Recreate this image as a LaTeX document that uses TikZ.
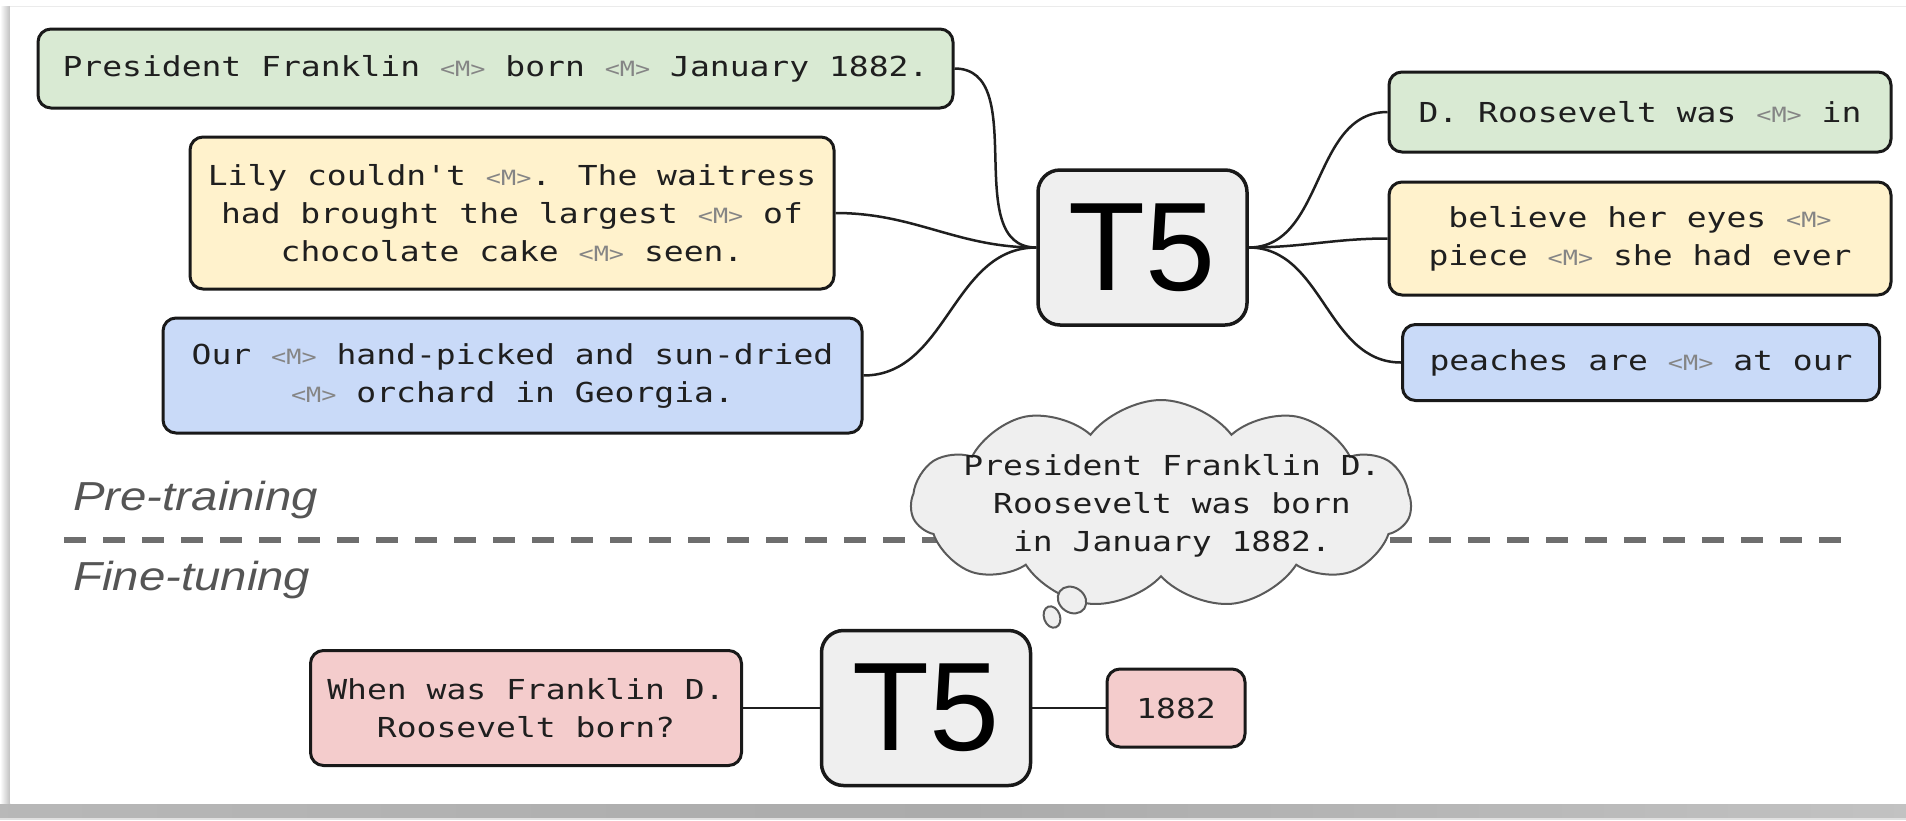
\documentclass[tikz,border=0pt]{standalone}
\usepackage{fontspec}
\usetikzlibrary{shapes.symbols,shapes.geometric}

\newfontfamily\monofam[FakeStretch=1.2]{DejaVu Sans Mono}
\newfontfamily\sansfam{Liberation Sans}
\newfontfamily\labelfam[FakeStretch=1.17]{Liberation Sans}

\definecolor{boxgreen}{HTML}{D9EAD3}
\definecolor{boxyellow}{HTML}{FFF2CC}
\definecolor{boxblue}{HTML}{C9DAF8}
\definecolor{boxpink}{HTML}{F4CCCC}
\definecolor{modelgray}{HTML}{EFEFEF}
\definecolor{inktext}{HTML}{1F1F1F}
\definecolor{masktext}{HTML}{858585}
\definecolor{rulegray}{HTML}{6E6E6E}
\definecolor{cloudline}{HTML}{5A5A5A}
\definecolor{labeltext}{HTML}{555555}

% masked-span token, set smaller and in grey
\newcommand\msk{{\fontsize{21}{38}\selectfont\color{masktext}<M>}}

\tikzset{
  textbox/.style={draw=black!90, line width=3pt, rounded corners=13pt,
    font=\monofam\fontsize{27.5}{38}\selectfont, text=inktext,
    align=center, inner sep=0pt},
  model/.style={draw=black!90, line width=3.5pt, rounded corners=22pt,
    fill=modelgray, font=\sansfam\fontsize{126}{126}\selectfont,
    minimum width=209pt, minimum height=155pt, inner sep=0pt},
  link/.style={line width=2.5pt, draw=black!88},
  phase/.style={font=\labelfam\itshape\fontsize{40.5}{44}\selectfont,
    text=labeltext, anchor=base west, inner sep=0pt},
  puff/.style={ellipse, draw=cloudline, fill=modelgray, line width=2pt, inner sep=0pt},
}

\begin{document}
\begin{tikzpicture}[x=1pt, y=-1pt]
\useasboundingbox (0,0) rectangle (1906,820);

% card with its drop shadow
\fill[white] (0,0) rectangle (1906,820);
\shade[left color=white, right color=black!25] (0,6) rectangle (10,804);
\shade[left color=black!28, right color=black!33] (0,804) rectangle (953,818);
\shade[left color=black!33, right color=black!24] (953,804) rectangle (1906,818);
\fill[black!12] (0,818) rectangle (1906,820);
\fill[white] (10,6) rectangle (1906,803);
\draw[black!8, line width=1pt] (10,6) -- (1906,6);

% pre-training: masked inputs, T5, targets
\node[model] (t5a) at (1142.5,247.5) {T5};

\node[textbox, fill=boxgreen, minimum width=915pt, minimum height=79pt] (in1) at (495.5,68.5)
  {President Franklin \msk{} born \msk{} January 1882.};
\node[textbox, fill=boxyellow, minimum width=644pt, minimum height=152pt] (in2) at (512,213)
  {Lily couldn't \msk{}. The waitress\\had brought the largest \msk{} of\\chocolate cake \msk{} seen.};
\node[textbox, fill=boxblue, minimum width=699pt, minimum height=115pt] (in3) at (512.5,375.5)
  {Our \msk{} hand-picked and sun-dried\\\msk{} orchard in Georgia.};

\node[textbox, fill=boxgreen, minimum width=502pt, minimum height=80pt] (out1) at (1640,112)
  {D. Roosevelt was \msk{} in};
\node[textbox, fill=boxyellow, minimum width=502pt, minimum height=113pt] (out2) at (1640,238.5)
  {believe her eyes \msk{}\\piece \msk{} she had ever};
\node[textbox, fill=boxblue, minimum width=477pt, minimum height=76pt] (out3) at (1641,362.5)
  {peaches are \msk{} at our};

\draw[link] (in1.east) to[out=0, in=180] (t5a.west);
\draw[link] (in2.east) to[out=0, in=180] (t5a.west);
\draw[link] (in3.east) to[out=0, in=180] (t5a.west);
\draw[link] (t5a.east) to[out=0, in=180] (out1.west);
\draw[link] (t5a.east) to[out=0, in=180] (out2.west);
\draw[link] (t5a.east) to[out=0, in=180] (out3.west);

% phase divider
\node[phase] (pre) at (73,510) {Pre-training};
\node[phase] (fine) at (73,590) {Fine-tuning};
\coordinate (divl) at (64,540);
\coordinate (divr) at (1857,540);
\draw[rulegray, line width=5.5pt, dash pattern=on 22pt off 17pt] (divl) -- (divr);

% thought cloud
\node[cloud, cloud puffs=11, cloud puff arc=105, aspect=2.4, draw=cloudline, fill=modelgray, line width=2pt,
  minimum width=500pt, minimum height=208pt, inner sep=0pt] (thought) at (1161,504) {};
\node[font=\monofam\fontsize{27.5}{38}\selectfont, text=inktext, align=center, inner sep=0pt]
  (thoughttext) at (1172,506) {President Franklin D.\\Roosevelt was born\\in January 1882.};
\node[puff, minimum width=30pt, minimum height=25pt, rotate=-35] (puffa) at (1072,600) {};
\node[puff, minimum width=16pt, minimum height=22pt, rotate=20] (puffb) at (1052,617) {};

% fine-tuning: question, T5, answer
\node[model] (t5b) at (926,708) {T5};
\node[textbox, fill=boxpink, minimum width=431pt, minimum height=115pt] (question) at (526,708)
  {When was Franklin D.\\Roosevelt born?};
\node[textbox, fill=boxpink, minimum width=138pt, minimum height=78pt] (answer) at (1176,708)
  {1882};
\draw[link] (question.east) -- (t5b.west);
\draw[link] (t5b.east) -- (answer.west);
\end{tikzpicture}
\end{document}
